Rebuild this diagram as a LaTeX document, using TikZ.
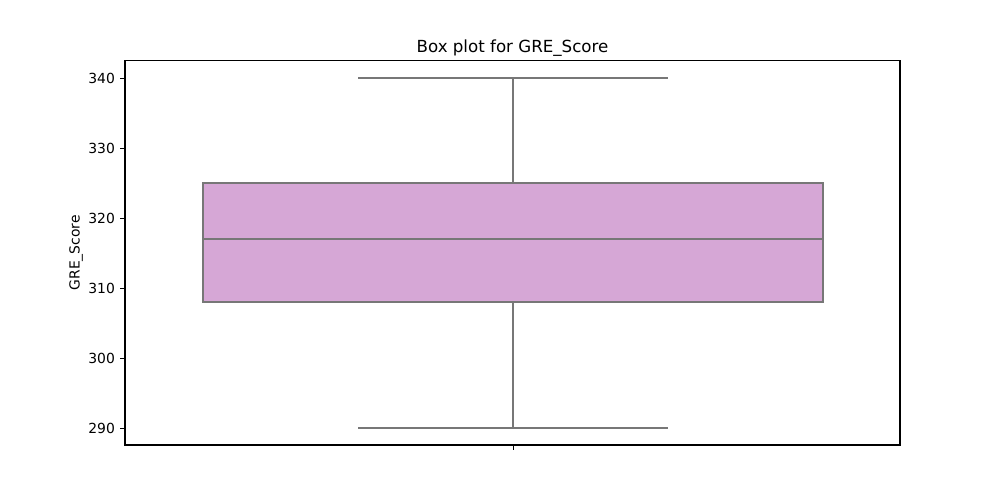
\documentclass[tikz,border=0pt]{standalone}
\usepackage{fontspec}
\setmainfont{DejaVu Sans}
\definecolor{boxfill}{RGB}{214,167,214}
\definecolor{boxline}{RGB}{119,119,119}
\begin{document}
\begin{tikzpicture}[x=0.72pt,y=-0.72pt,
  axisline/.style={draw=black,line width=0.8pt},
  tickline/.style={draw=black,line width=0.8pt},
  boxstroke/.style={draw=boxline,line width=1.2pt},
  ticklabel/.style={font=\fontsize{10}{12}\selectfont,anchor=east,inner sep=0pt},
  titlelabel/.style={font=\fontsize{12}{14}\selectfont,anchor=base,inner sep=0pt},
  ylabelstyle/.style={font=\fontsize{10}{12}\selectfont,rotate=90,anchor=center,inner sep=0pt}]
\useasboundingbox[fill=white] (0,0) rectangle (1000,500);
% box and whiskers
\coordinate (wtop) at (513.3,78.3);
\coordinate (wbot) at (513.3,428.3);
\coordinate (q3) at (513.3,183.3);
\coordinate (q1) at (513.3,301.7);
\draw[boxstroke] (q3) -- (wtop);
\draw[boxstroke] (q1) -- (wbot);
\draw[boxstroke] (358.3,78.3) -- (668.3,78.3);
\draw[boxstroke] (358.3,428.3) -- (668.3,428.3);
\draw[boxstroke,fill=boxfill] (203.3,183.3) rectangle (823.3,301.7);
\draw[boxstroke] (203.3,239.3) -- (823.3,239.3);
% axes frame
\draw[axisline] (125,60.3) rectangle (900,445);
% y ticks
\foreach \v/\yy in {340/78.3,330/148.3,320/218.3,310/288.3,300/358.3,290/428.3}{
  \draw[tickline] (120.1,\yy) -- (125,\yy);
  \node[ticklabel] at (115.2,\yy) {\v};
}
% x tick
\draw[tickline] (513.3,445) -- (513.3,449.9);
% labels
\node[ylabelstyle] (ylab) at (76,252.7) {GRE\_Score};
\node[titlelabel] (title) at (512.5,52) {Box plot for GRE\_Score};
\end{tikzpicture}
\end{document}
